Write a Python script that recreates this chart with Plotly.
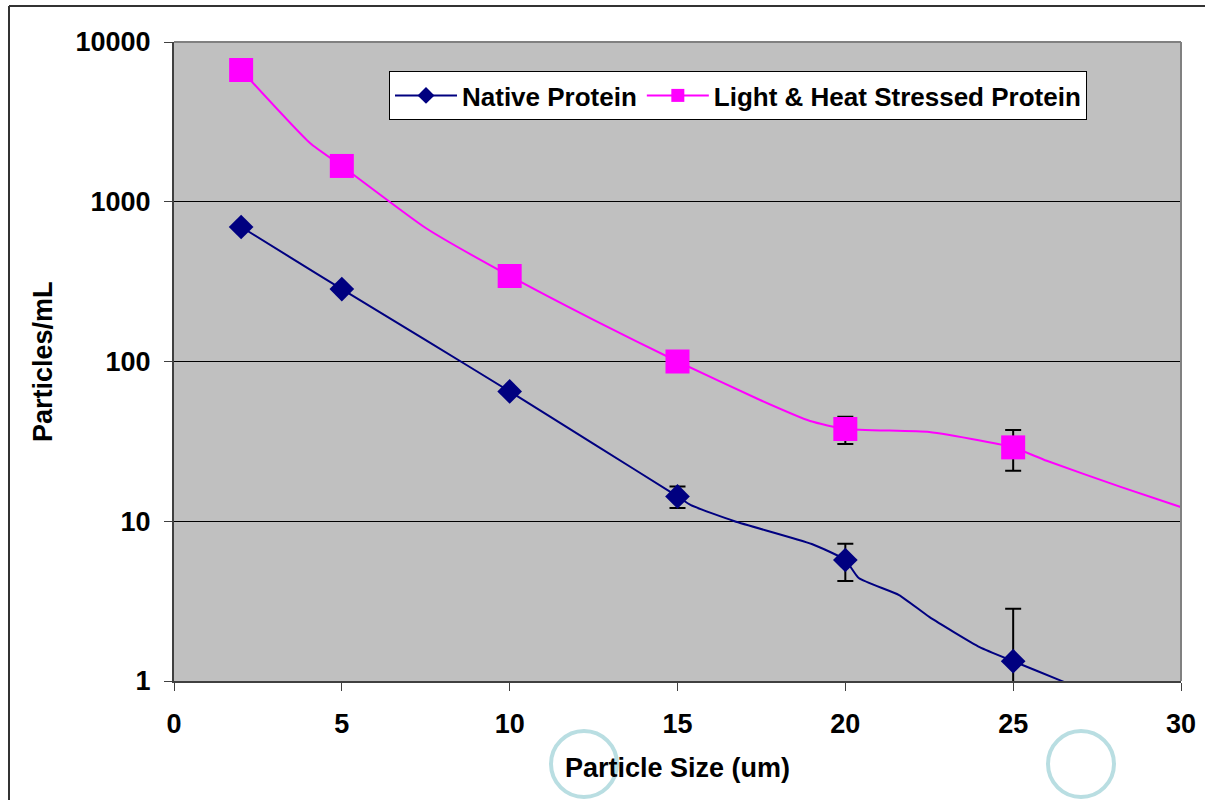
import plotly.graph_objects as go

# ---------------- data ----------------
sizes = [2, 5, 10, 15, 20, 25]

native_vals = [695, 284, 65, 14.3, 5.72, 1.33]
native_err = [0, 0, 0, 2.2, 1.5, 1.5]

stressed_vals = [6680, 1675, 343, 100, 37.8, 29]
stressed_err = [0, 0, 0, 0, 7.3, 8.3]

# smoothed connecting lines as drawn in the reference
native_line_x = [2, 3.5, 5, 7.5, 10, 12.5, 15, 15.4, 16.7, 19.0, 20, 20.4, 21.6, 22.5, 24.0, 25, 26.4, 27.3]
native_line_y = [695, 444, 284, 136, 65, 30.5, 14.3, 12.6, 10, 7.2, 5.72, 4.41, 3.45, 2.52, 1.63, 1.33, 1.01, 0.84]

stressed_line_x = [2, 4.05, 5, 7.5, 10, 12.5, 15, 17.46, 18.95, 20, 22.5, 24.05, 25, 26.0, 28.2, 30.4]
stressed_line_y = [6680, 2333, 1675, 685, 343, 182, 100, 57.4, 42.4, 37.8, 36.2, 31.9, 29, 23.9, 16.4, 11.5]

series_names = ["Native Protein", "Light & Heat Stressed Protein"]
x_ticks = [0, 5, 10, 15, 20, 25, 30]
y_ticks = [1, 10, 100, 1000, 10000]
y_tick_text = ["1", "10", "100", "1000", "10000"]

x_title = "Particle Size (um)"
y_title = "Particles/mL"

# ---------------- styling ----------------
NAVY = "#000080"
MAGENTA = "#FF00FF"
FONT = "Liberation Sans, Arial, sans-serif"
FS = 27

W, H = 1206, 800
L, R, T, B = 174, 25, 42, 119
PW, PH = W - L - R, H - T - B


def px(xp):
    return (xp - L) / PW


def py(yp):
    return (H - B - yp) / PH


fig = go.Figure()

# lines
fig.add_trace(go.Scatter(x=native_line_x, y=native_line_y, mode="lines",
                         line=dict(color=NAVY, width=2, shape="spline", smoothing=0.5),
                         showlegend=False, hoverinfo="skip"))
fig.add_trace(go.Scatter(x=stressed_line_x, y=stressed_line_y, mode="lines",
                         line=dict(color=MAGENTA, width=2, shape="spline", smoothing=0.5),
                         showlegend=False, hoverinfo="skip"))

# markers with error bars
fig.add_trace(go.Scatter(x=sizes, y=native_vals, mode="markers",
                         marker=dict(symbol="diamond", size=19, color=NAVY),
                         error_y=dict(type="data", array=native_err, visible=True,
                                      color="black", thickness=2, width=8),
                         showlegend=False))
fig.add_trace(go.Scatter(x=sizes, y=stressed_vals, mode="markers",
                         marker=dict(symbol="square", size=24, color=MAGENTA),
                         error_y=dict(type="data", array=stressed_err, visible=True,
                                      color="black", thickness=2, width=8),
                         showlegend=False))

# legend entries
fig.add_trace(go.Scatter(x=[None], y=[None], mode="lines+markers", name=series_names[0],
                         line=dict(color=NAVY, width=2),
                         marker=dict(symbol="diamond", size=13, color=NAVY)))
fig.add_trace(go.Scatter(x=[None], y=[None], mode="lines+markers", name=series_names[1],
                         line=dict(color=MAGENTA, width=2),
                         marker=dict(symbol="square", size=13, color=MAGENTA)))

axis_font = dict(family=FONT, size=FS, color="black", weight="bold")

fig.update_xaxes(range=[0, 30], tickvals=x_ticks, ticks="outside", ticklen=8,
                 tickwidth=1, tickcolor="#404040", showline=True, linecolor="#404040",
                 linewidth=2, showgrid=False, zeroline=False, tickfont=axis_font,
                 ticklabelstandoff=10)
fig.update_yaxes(type="log", range=[0, 4], tickvals=y_ticks, ticktext=y_tick_text,
                 ticks="outside", ticklen=8, tickwidth=1, tickcolor="#404040",
                 showline=True, linecolor="#404040", linewidth=2, showgrid=True,
                 gridcolor="#000000", gridwidth=1, zeroline=False, tickfont=axis_font,
                 ticklabelstandoff=8)

shapes = [
    # plot area border (top & right) in gray
    dict(type="line", xref="paper", yref="paper", x0=0, x1=1, y0=1, y1=1,
         line=dict(color="#808080", width=2), layer="above"),
    dict(type="line", xref="paper", yref="paper", x0=1, x1=1, y0=0, y1=1,
         line=dict(color="#808080", width=2), layer="above"),
    # outer frame (top & left)
    dict(type="line", xref="paper", yref="paper", x0=px(9), x1=px(1205), y0=py(6), y1=py(6),
         line=dict(color="#333333", width=2)),
    dict(type="line", xref="paper", yref="paper", x0=px(9), x1=px(9), y0=py(6), y1=py(800),
         line=dict(color="#333333", width=2)),
    # light blue rings
    dict(type="circle", xref="paper", yref="paper", x0=px(551), x1=px(617), y0=py(731), y1=py(797),
         line=dict(color="#B9DEE2", width=4)),
    dict(type="circle", xref="paper", yref="paper", x0=px(1048), x1=px(1114), y0=py(731), y1=py(797),
         line=dict(color="#B9DEE2", width=4)),
]

annotations = [
    dict(text=x_title, xref="paper", yref="paper", x=px(677), y=py(768),
         xanchor="center", yanchor="middle", showarrow=False, font=axis_font),
    dict(text=y_title, xref="paper", yref="paper", x=px(43), y=py(362),
         xanchor="center", yanchor="middle", showarrow=False, textangle=-90, font=axis_font),
]

fig.update_layout(
    width=W, height=H,
    margin=dict(l=L, r=R, t=T, b=B, autoexpand=False),
    paper_bgcolor="white",
    plot_bgcolor="#C0C0C0",
    font=dict(family=FONT, size=FS, color="black"),
    showlegend=True,
    legend=dict(orientation="h", x=px(389), y=py(71), xanchor="left", yanchor="top",
                bgcolor="white", bordercolor="black", borderwidth=1,
                font=dict(family=FONT, size=FS - 1, color="black", weight="bold"),
                itemwidth=62, tracegroupgap=0),
    shapes=shapes,
    annotations=annotations,
)

fig.write_html("out.html",
               config={"displayModeBar": False},
               post_script="document.body.style.margin='0px';document.body.style.overflow='hidden';")
